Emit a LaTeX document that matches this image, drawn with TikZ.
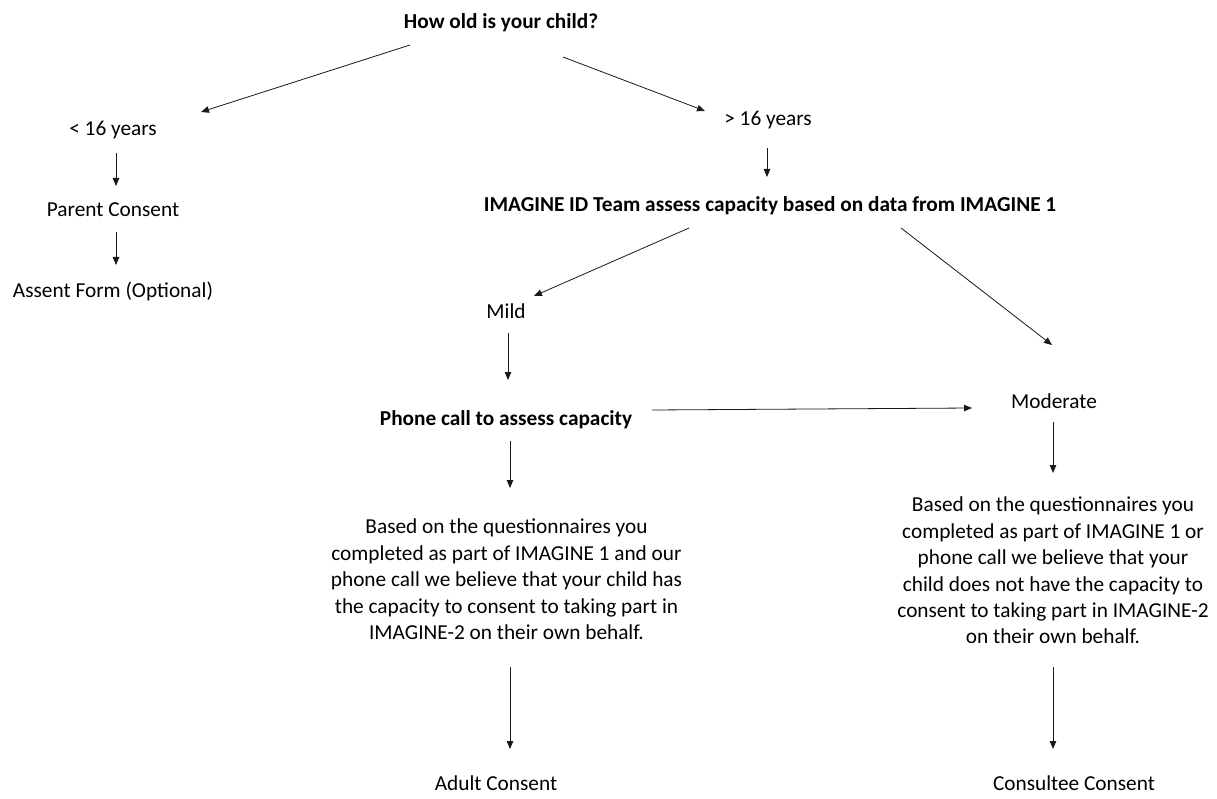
\documentclass[tikz,border=0pt]{standalone}
\usepackage{fontspec}
\setmainfont{Carlito}
\usetikzlibrary{arrows.meta}
\begin{document}
\begin{tikzpicture}[x=1pt,y=-1pt,
  txt/.style={inner sep=0pt, font=\fontsize{21.3}{26.2}\selectfont, anchor=base},
  btxt/.style={inner sep=0pt, font=\fontsize{21.3}{26.2}\selectfont\bfseries, anchor=base},
  para/.style={inner sep=0pt, font=\fontsize{21.3}{26.4}\selectfont, align=center, anchor=north},
  arr/.style={draw=black!90, line width=0.8pt, -{Triangle[length=8pt,width=6.5pt]}}]
\useasboundingbox (0,0) rectangle (1217,799);
\fill[white] (0,0) rectangle (1217,799);

% nodes
\node[btxt] (title) at (501,29) {How old is your child?};
\node[txt] (lt) at (113,136) {< 16 years};
\node[txt] (parent) at (113,217) {Parent Consent};
\node[txt] (assent) at (113,298) {Assent Form (Optional)};
\node[txt] (gt) at (768,126) {> 16 years};
\node[btxt] (team) at (770,212) {IMAGINE ID Team assess capacity based on data from IMAGINE 1};
\node[txt] (mild) at (506,319) {Mild};
\node[btxt] (phone) at (506,425) {Phone call to assess capacity};
\node[txt] (moderate) at (1054,408) {Moderate};
\node[para] (left) at (506.5,519) {Based on the questionnaires you\\completed as part of IMAGINE 1 and our\\phone call we believe that your child has\\the capacity to consent to taking part in\\IMAGINE-2 on their own behalf.};
\node[para] (right) at (1053,497) {Based on the questionnaires you\\completed as part of IMAGINE 1 or\\phone call we believe that your\\child does not have the capacity to\\consent to taking part in IMAGINE-2\\on their own behalf.};
\node[txt] (adult) at (496,790) {Adult Consent};
\node[txt] (consultee) at (1074,790) {Consultee Consent};

% connectors
\draw[arr] ([shift={(-91,16)}]title.base) -- ([shift={(88,-24)}]lt.base);
\draw[arr] ([shift={(62,28)}]title.base) -- ([shift={(-63,-15)}]gt.base);
\draw[arr] ([shift={(3,17)}]lt.base) -- ([shift={(3,-31)}]parent.base);
\draw[arr] ([shift={(3,15)}]parent.base) -- ([shift={(3,-33)}]assent.base);
\draw[arr] ([shift={(-1,22)}]gt.base) -- ([shift={(-3,-35)}]team.base);
\draw[arr] ([shift={(-81,16)}]team.base) -- ([shift={(28,-23)}]mild.base);
\draw[arr] ([shift={(131,16)}]team.base) -- ([shift={(-2,-63)}]moderate.base);
\draw[arr] ([shift={(2,14)}]mild.base) -- ([shift={(2,-45)}]phone.base);
\draw[arr] ([shift={(146,-15)}]phone.base) -- ([shift={(-82,0)}]moderate.base);
\draw[arr] ([shift={(4,16)}]phone.base) -- ([shift={(3.5,-31)}]left.north);
\draw[arr] ([shift={(-1,14)}]moderate.base) -- ([shift={(0,-24)}]right.north);
\draw[arr] ([shift={(3.5,148)}]left.north) -- ([shift={(14,-41)}]adult.base);
\draw[arr] ([shift={(0,170)}]right.north) -- ([shift={(-21,-41)}]consultee.base);
\end{tikzpicture}
\end{document}
